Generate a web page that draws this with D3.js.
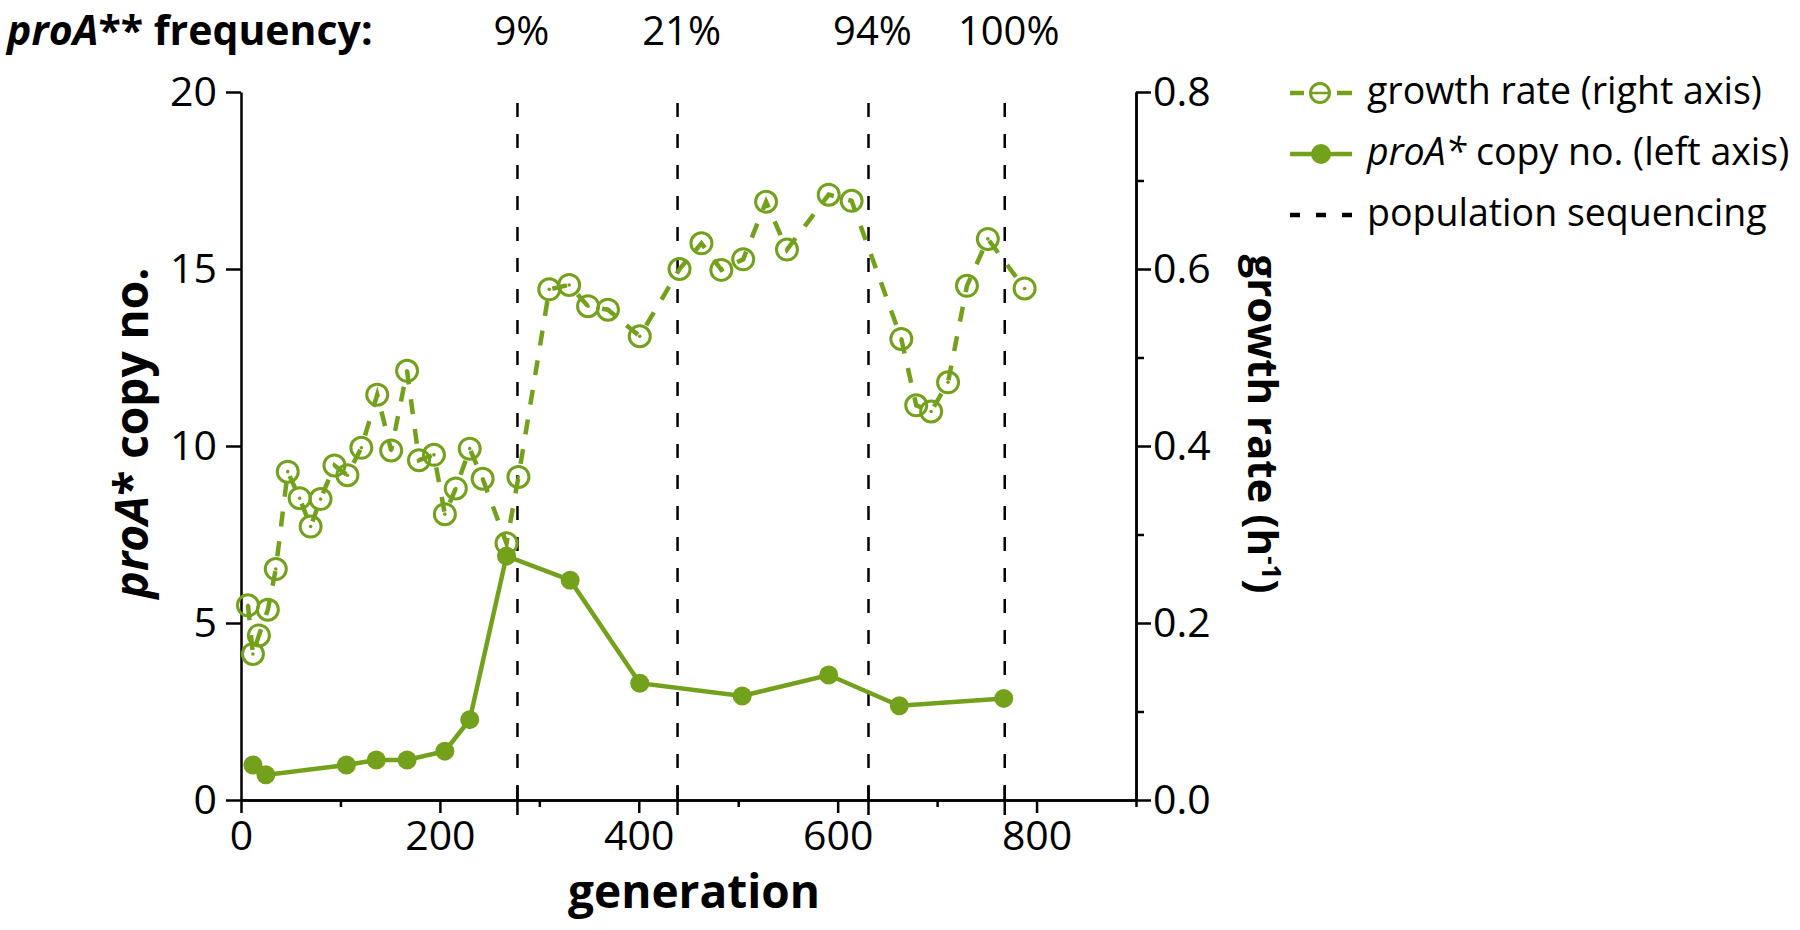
<!DOCTYPE html>
<html>
<head>
<meta charset="utf-8">
<script src="https://cdn.jsdelivr.net/npm/d3@7"></script>
<style>
  html, body { margin: 0; padding: 0; background: #fff; }
  svg text { font-family: "Open Sans", "Noto Sans", sans-serif; fill: #000; }
</style>
</head>
<body>
<svg id="chart" width="1800" height="930"></svg>
<script>
// ---- data ----
const copyGen = [12, 25, 106, 136, 167, 205, 230, 267, 331, 401, 504, 591, 662, 767];
const copyNo  = [0.99, 0.71, 0.99, 1.13, 1.13, 1.38, 2.27, 6.89, 6.21, 3.30, 2.94, 3.53, 2.66, 2.87];

const growthGen  = [7, 12, 18, 27, 35, 47, 59, 70, 80, 94, 107, 121, 137, 151, 167, 179, 194, 205, 216, 230, 243, 267, 279,
                    310, 330, 349, 369, 401, 441, 463, 483, 505, 528, 549, 591, 614, 664, 679, 694, 711, 730, 751, 788];
const growthRate = [0.220, 0.165, 0.186, 0.215, 0.261, 0.371, 0.341, 0.309, 0.340, 0.378, 0.367, 0.398, 0.458, 0.395, 0.485,
                    0.384, 0.390, 0.323, 0.352, 0.397, 0.363, 0.290, 0.365, 0.577, 0.582, 0.558, 0.554, 0.524, 0.600, 0.629,
                    0.599, 0.611, 0.676, 0.622, 0.684, 0.677, 0.521, 0.446, 0.439, 0.472, 0.581, 0.634, 0.578];

const seqGen    = [278, 439, 631, 768];
const seqLabels = ["9%", "21%", "94%", "100%"];

const xMajorTicks = [0, 200, 400, 600, 800];
const xMinorTicks = [100, 300, 500, 700, 900];
const yLeftTicks  = [0, 5, 10, 15, 20];
const yRightTicks = [0, 0.2, 0.4, 0.6, 0.8];
const yRightMinor = [0.1, 0.3, 0.5, 0.7];

const legendLabels = ["growth rate (right axis)", "copy no. (left axis)", "population sequencing"];

// ---- setup ----
const green = "#73a11c";
const svg = d3.select("#chart");
svg.append("rect").attr("width", 1800).attr("height", 930).attr("fill", "#fff");

const x  = d3.scaleLinear().domain([0, 900]).range([241, 1136]);
const yL = d3.scaleLinear().domain([0, 20]).range([800, 92]);
const yR = d3.scaleLinear().domain([0, 0.8]).range([800, 92]);

function styleAxis(g) {
  g.selectAll("path.domain").attr("stroke", "#000").attr("stroke-width", 2.5);
  g.selectAll(".tick line").attr("stroke", "#000").attr("stroke-width", 2.5);
  g.selectAll(".tick text").style("font-size", "41px").attr("fill", "#000");
}

// sequencing lines
const seqG = svg.append("g");
seqG.selectAll("line.seq").data(seqGen).join("line")
  .attr("x1", d => x(d)).attr("x2", d => x(d))
  .attr("y1", 103).attr("y2", 800)
  .attr("stroke", "#000").attr("stroke-width", 2.5)
  .attr("stroke-dasharray", "14,17");
seqG.selectAll("line.seqtick").data(seqGen).join("line")
  .attr("x1", d => x(d)).attr("x2", d => x(d))
  .attr("y1", 786).attr("y2", 815)
  .attr("stroke", "#000").attr("stroke-width", 2.5);

// axes
const xMinor = svg.append("g").attr("transform", "translate(0,800)")
  .call(d3.axisBottom(x).tickValues(xMinorTicks).tickSize(7).tickSizeOuter(0).tickFormat(""));
styleAxis(xMinor);
const xAxis = svg.append("g").attr("transform", "translate(0,800)")
  .call(d3.axisBottom(x).tickValues(xMajorTicks).tickSize(13).tickSizeOuter(0).tickPadding(8).tickFormat(d3.format("d")));
styleAxis(xAxis);

const yAxisL = svg.append("g").attr("transform", "translate(241,0)")
  .call(d3.axisLeft(yL).tickValues(yLeftTicks).tickSize(15).tickSizeOuter(0).tickPadding(9).tickFormat(d3.format("d")));
styleAxis(yAxisL);

const yMinorR = svg.append("g").attr("transform", "translate(1136,0)")
  .call(d3.axisRight(yR).tickValues(yRightMinor).tickSize(8).tickSizeOuter(0).tickFormat(""));
styleAxis(yMinorR);
const yAxisR = svg.append("g").attr("transform", "translate(1136,0)")
  .call(d3.axisRight(yR).tickValues(yRightTicks).tickSize(15).tickSizeOuter(0).tickPadding(2).tickFormat(d3.format(".1f")));
styleAxis(yAxisR);

// growth rate (dashed, open circles)
const growthData = growthGen.map((g, i) => [g, growthRate[i]]);
svg.append("path").datum(growthData)
  .attr("fill", "none").attr("stroke", green).attr("stroke-width", 4.5)
  .attr("stroke-dasharray", "15,15")
  .attr("d", d3.line().x(d => x(d[0])).y(d => yR(d[1])));
svg.append("g").selectAll("circle").data(growthData).join("circle")
  .attr("cx", d => x(d[0])).attr("cy", d => yR(d[1])).attr("r", 10.5)
  .attr("fill", "none").attr("stroke", green).attr("stroke-width", 3);
svg.append("g").selectAll("circle").data(growthData).join("circle")
  .attr("cx", d => x(d[0])).attr("cy", d => yR(d[1])).attr("r", 1.8)
  .attr("fill", green);

// copy number (solid, filled circles)
const copyData = copyGen.map((g, i) => [g, copyNo[i]]);
svg.append("path").datum(copyData)
  .attr("fill", "none").attr("stroke", green).attr("stroke-width", 4.5)
  .attr("d", d3.line().x(d => x(d[0])).y(d => yL(d[1])));
svg.append("g").selectAll("circle").data(copyData).join("circle")
  .attr("cx", d => x(d[0])).attr("cy", d => yL(d[1])).attr("r", 9.5)
  .attr("fill", green);

// top labels
const title = svg.append("text").attr("x", 7).attr("y", 45)
  .style("font-size", "41px").style("font-weight", "bold");
title.append("tspan").style("font-style", "italic").text("proA");
title.append("tspan").text("** frequency:");

svg.append("g").selectAll("text").data(seqGen).join("text")
  .attr("x", d => x(d) + 4).attr("y", 45)
  .attr("text-anchor", "middle").style("font-size", "40px")
  .text((d, i) => seqLabels[i]);

// axis titles
svg.append("text").attr("x", 694).attr("y", 908)
  .attr("text-anchor", "middle").style("font-size", "46px").style("font-weight", "bold")
  .text("generation");

const lt = svg.append("text").attr("transform", "translate(148,433) rotate(-90)")
  .attr("text-anchor", "middle").style("font-size", "46px").style("font-weight", "bold");
lt.append("tspan").style("font-style", "italic").text("proA");
lt.append("tspan").text("* copy no.");

const rt = svg.append("text").attr("transform", "translate(1248,424) rotate(90)")
  .attr("text-anchor", "middle").style("font-size", "42px").style("font-weight", "bold");
rt.append("tspan").text("growth rate (h");
rt.append("tspan").attr("dy", -14).style("font-size", "26px").text("-1");
rt.append("tspan").attr("dy", 14).text(")");

// legend
const legY = [93, 154, 215];
const lg = svg.append("g");
// row 1
lg.append("line").attr("x1", 1290).attr("x2", 1304).attr("y1", legY[0]).attr("y2", legY[0])
  .attr("stroke", green).attr("stroke-width", 4.5);
lg.append("line").attr("x1", 1310).attr("x2", 1330).attr("y1", legY[0]).attr("y2", legY[0])
  .attr("stroke", green).attr("stroke-width", 2.5);
lg.append("line").attr("x1", 1337).attr("x2", 1352).attr("y1", legY[0]).attr("y2", legY[0])
  .attr("stroke", green).attr("stroke-width", 4.5);
lg.append("circle").attr("cx", 1320).attr("cy", legY[0]).attr("r", 9.5)
  .attr("fill", "none").attr("stroke", green).attr("stroke-width", 3);
// row 2
lg.append("line").attr("x1", 1290).attr("x2", 1352).attr("y1", legY[1]).attr("y2", legY[1])
  .attr("stroke", green).attr("stroke-width", 4.5);
lg.append("circle").attr("cx", 1321).attr("cy", legY[1]).attr("r", 10).attr("fill", green);
// row 3
lg.append("line").attr("x1", 1290).attr("x2", 1353).attr("y1", legY[2]).attr("y2", legY[2])
  .attr("stroke", "#000").attr("stroke-width", 4.5)
  .attr("stroke-dasharray", "10,16");

lg.append("text").attr("x", 1367).attr("y", legY[0] + 11).style("font-size", "37.5px").text(legendLabels[0]);
const l2 = lg.append("text").attr("x", 1367).attr("y", legY[1] + 11).style("font-size", "37.5px");
l2.append("tspan").style("font-style", "italic").text("proA*");
l2.append("tspan").text(" " + legendLabels[1]);
lg.append("text").attr("x", 1367).attr("y", legY[2] + 11).style("font-size", "37.5px").text(legendLabels[2]);
</script>
</body>
</html>
